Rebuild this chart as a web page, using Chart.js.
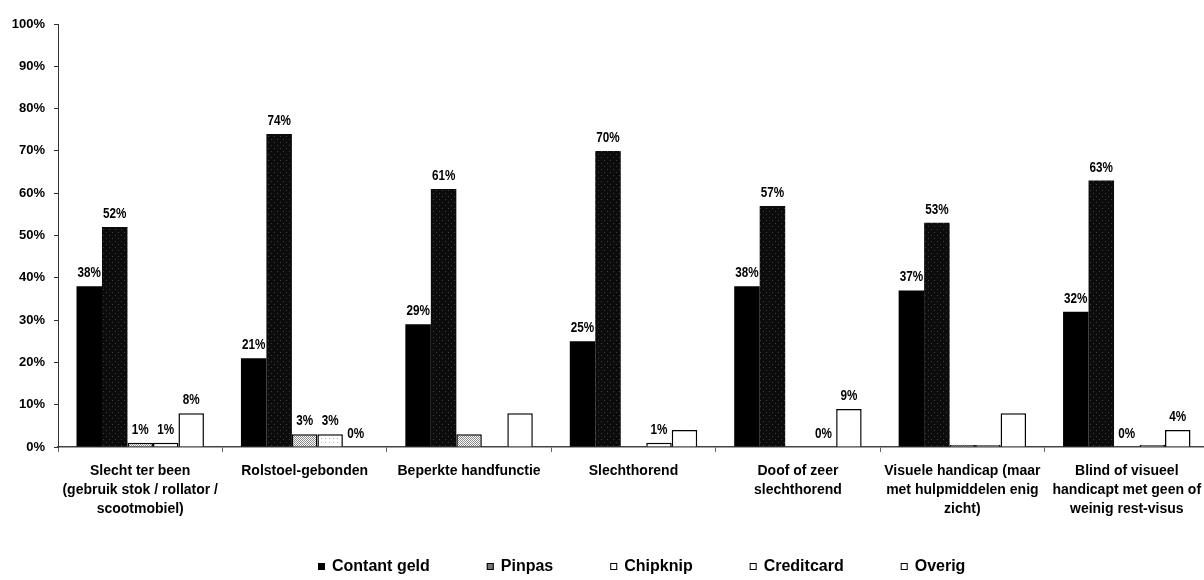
<!DOCTYPE html>
<html>
<head>
<meta charset="utf-8">
<script src="https://cdn.jsdelivr.net/npm/chart.js@4.4.1/dist/chart.umd.min.js"></script>
<style>
    html, body { margin: 0; padding: 0; background: #fff; overflow: hidden; }
    #wrap { position: relative; width: 1212px; height: 580px; }
</style>
</head>
<body>
<div id="wrap"><canvas id="chart"></canvas></div>
<script>
// categories (one per group)
const categories = [
    ['Slecht ter been', '(gebruik stok / rollator /', 'scootmobiel)'],
    'Rolstoel-gebonden',
    'Beperkte handfunctie',
    'Slechthorend',
    ['Doof of zeer', 'slechthorend'],
    ['Visuele handicap (maar', 'met hulpmiddelen enig', 'zicht)'],
    ['Blind of visueel', 'handicapt met geen of', 'weinig rest-visus']
];

const seriesNames = ['Contant geld', 'Pinpas', 'Chipknip', 'Creditcard', 'Overig'];

// percentages
const contantGeld = [38, 21, 29, 25, 38, 37, 32];
const pinpas      = [52, 74, 61, 70, 57, 53, 63];
const chipknip    = [1, 3, 3, 0, 0, 0.5, 0];
const creditcard  = [1, 3, 0, 1, 0, 0.5, 0.5];
const overig      = [8, 0, 8, 4, 9, 8, 4];

// which bars carry a value label in the original
const contantShown    = [1, 1, 1, 1, 1, 1, 1];
const pinpasShown     = [1, 1, 1, 1, 1, 1, 1];
const chipknipShown   = [1, 1, 0, 0, 0, 0, 1];
const creditcardShown = [1, 1, 0, 1, 1, 0, 0];
const overigShown     = [1, 1, 0, 0, 1, 0, 1];

const yMax = 100;
const yStep = 10;

const SANS = '"Liberation Sans", Arial, sans-serif';

function makePattern(bg, dot, size, spots) {
    const c = document.createElement('canvas');
    c.width = c.height = size;
    const g = c.getContext('2d');
    g.fillStyle = bg;
    g.fillRect(0, 0, size, size);
    g.fillStyle = dot;
    spots.forEach(function(p) { g.fillRect(p[0], p[1], 1, 1); });
    return g.createPattern(c, 'repeat');
}

const pinpasFill = makePattern('#0c0c0c', '#3c3c3c', 6, [[1, 1], [4, 4]]);
const chipknipFill = makePattern('#ffffff', '#8a8a8a', 2, [[0, 0], [1, 1]]);
const creditFill = makePattern('#ffffff', '#b0b0b0', 4, [[1, 2]]);

// value labels, drawn condensed like the original narrow font
const valueLabels = {
    id: 'valueLabels',
    afterDatasetsDraw(chart) {
        const ctx = chart.ctx;
        ctx.save();
        ctx.font = 'bold 15px ' + SANS;
        ctx.textAlign = 'center';
        ctx.textBaseline = 'alphabetic';
        ctx.fillStyle = '#000';
        chart.data.datasets.forEach(function(ds, i) {
            chart.getDatasetMeta(i).data.forEach(function(bar, j) {
                if (!ds.showLabel[j]) return;
                ctx.save();
                ctx.translate(bar.x, bar.y - 9);
                ctx.scale(0.78, 1);
                ctx.fillText(Math.round(ds.data[j]) + '%', 0, 0);
                ctx.restore();
            });
        });
        ctx.restore();
    }
};

const legendRow = {
    id: 'legendRow',
    afterDraw(chart) {
        const ctx = chart.ctx;
        ctx.save();
        ctx.font = 'bold 16px ' + SANS;
        ctx.textBaseline = 'middle';
        let x = 318;
        const y = 567;
        chart.data.datasets.forEach(function(ds) {
            ctx.fillStyle = ds.legendColor;
            ctx.fillRect(x, y - 4, 7, 7);
            ctx.strokeStyle = '#000';
            ctx.lineWidth = 1;
            ctx.strokeRect(x + 0.5, y - 3.5, 6, 6);
            ctx.fillStyle = '#000';
            ctx.fillText(ds.label, x + 14, y);
            x += 14 + ctx.measureText(ds.label).width + 57;
        });
        ctx.restore();
    }
};

function series(name, data, shown, fill, legendColor, border) {
    return {
        label: name,
        data: data,
        showLabel: shown,
        backgroundColor: fill,
        legendColor: legendColor,
        borderColor: '#000',
        borderWidth: border,
        categoryPercentage: 0.775,
        barPercentage: 1.0
    };
}

const ctx = document.getElementById('chart').getContext('2d');
new Chart(ctx, {
    type: 'bar',
    data: {
        labels: categories,
        datasets: [
            series(seriesNames[0], contantGeld, contantShown, '#000000', '#000000', 0),
            series(seriesNames[1], pinpas, pinpasShown, pinpasFill, '#777777', 0),
            series(seriesNames[2], chipknip, chipknipShown, chipknipFill, '#ffffff', 1.5),
            series(seriesNames[3], creditcard, creditcardShown, creditFill, '#ffffff', 1.5),
            series(seriesNames[4], overig, overigShown, '#ffffff', '#ffffff', 1.5)
        ]
    },
    options: {
        responsive: true,
        maintainAspectRatio: false,
        animation: false,
        layout: { padding: { top: 24, right: 3, left: 0, bottom: 0 } },
        plugins: {
            legend: { display: false },
            tooltip: { enabled: false }
        },
        scales: {
            x: {
                grid: { drawOnChartArea: false, tickLength: 5, color: '#666' },
                border: { color: '#444', width: 1.5 },
                ticks: {
                    color: '#000',
                    padding: 10,
                    maxRotation: 0,
                    autoSkip: false,
                    font: { family: SANS, size: 14, weight: 'bold', lineHeight: 1.35 }
                },
                afterFit(scale) { scale.height = 133; }
            },
            y: {
                min: 0,
                max: yMax,
                grid: { drawOnChartArea: false, tickLength: 4, color: '#333' },
                border: { color: '#333', dash: [2, 2] },
                ticks: {
                    stepSize: yStep,
                    color: '#000',
                    padding: 9,
                    font: { family: SANS, size: 13, weight: 'bold' },
                    callback: function(v) { return v + '%'; }
                },
                afterFit(scale) { scale.width = 58; }
            }
        }
    },
    plugins: [valueLabels, legendRow]
});
</script>
</body>
</html>
